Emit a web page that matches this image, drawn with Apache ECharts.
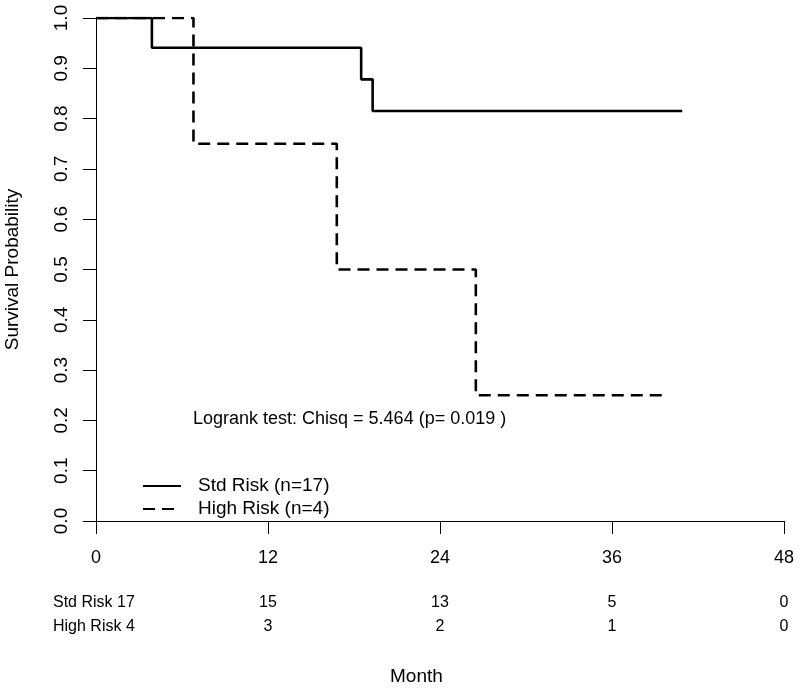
<!DOCTYPE html>
<html>
<head>
<meta charset="utf-8">
<script src="https://cdn.jsdelivr.net/npm/echarts@6/dist/echarts.min.js"></script>
<style>
html,body{margin:0;padding:0;background:#fff;}
#chart{width:800px;height:688px;}
</style>
</head>
<body>
<div id="chart"></div>
<script>
// ---- data ----
var stdTimes = [0, 3.9, 18.5, 19.3];
var stdSurv  = [1.0, 0.941, 0.878, 0.815];
var stdEnd   = 40.9;
var highTimes = [0, 6.8, 16.8, 26.5];
var highSurv  = [1.0, 0.75, 0.5, 0.25];
var highEnd   = 39.6;
var xTicks = [0, 12, 24, 36, 48];
var stdAtRisk  = [17, 15, 13, 5, 0];
var highAtRisk = [4, 3, 2, 1, 0];
var seriesNames = ['Std Risk (n=17)', 'High Risk (n=4)'];
var riskRowNames = ['Std Risk 17', 'High Risk 4'];
var testText = 'Logrank test: Chisq = 5.464 (p= 0.019 )';
var xTitle = 'Month';
var yTitle = 'Survival Probability';

function stepPoints(times, surv, end) {
  var pts = [];
  for (var i = 0; i < times.length; i++) {
    pts.push([times[i], surv[i]]);
    var next = (i + 1 < times.length) ? times[i + 1] : end;
    pts.push([next, surv[i]]);
  }
  return pts;
}

var FONT = '"Liberation Sans", Arial, Helvetica, sans-serif';
var chart = echarts.init(document.getElementById('chart'), null, {renderer: 'canvas'});

function riskAxis(arr, offset) {
  return {
    type: 'value', position: 'bottom', offset: offset,
    min: 0, max: 48, interval: 12,
    axisLine: {show: false}, axisTick: {show: false}, splitLine: {show: false},
    axisLabel: {
      margin: 8, fontSize: 16, color: '#000', fontFamily: FONT,
      formatter: function (v) {
        var i = xTicks.indexOf(v);
        return (i > 0) ? String(arr[i]) : '';
      }
    }
  };
}

var option = {
  backgroundColor: '#fff',
  animation: false,
  grid: {left: 96, right: 16, top: 18, bottom: 167, containLabel: false, outerBoundsMode: 'none'},
  legend: {
    orient: 'vertical', left: 142, top: 476, padding: 0,
    itemWidth: 38, itemHeight: 14, itemGap: 3,
    itemStyle: {opacity: 0, borderWidth: 0},
    textStyle: {fontSize: 19, color: '#000', fontFamily: FONT, padding: [0, 0, 0, 12], lineHeight: 20},
    data: seriesNames
  },
  xAxis: [{
    type: 'value', min: 0, max: 48, interval: 12,
    axisLine: {show: true, onZero: false, lineStyle: {color: '#000', width: 1}},
    axisTick: {show: true, length: 13, lineStyle: {color: '#000', width: 1}},
    splitLine: {show: false},
    axisLabel: {margin: 28, fontSize: 18, color: '#000', fontFamily: FONT}
  },
    riskAxis(stdAtRisk, 66),
    riskAxis(highAtRisk, 90)
  ],
  yAxis: {
    type: 'value', min: 0, max: 1, interval: 0.1,
    name: yTitle, nameLocation: 'middle', nameGap: 74, nameRotate: 90,
    nameTextStyle: {fontSize: 19, color: '#000', fontFamily: FONT},
    axisLine: {show: true, lineStyle: {color: '#000', width: 1}},
    axisTick: {show: true, length: 13, lineStyle: {color: '#000', width: 1}},
    splitLine: {show: false},
    axisLabel: {margin: 25, rotate: 90, fontSize: 19, color: '#000', fontFamily: FONT,
      formatter: function (v) { return v.toFixed(1); }}
  },
  graphic: [
    {type: 'text', left: 193, top: 410, style: {text: testText, fill: '#000', font: '18px ' + FONT}},
    {type: 'text', left: 53, top: 595, style: {text: riskRowNames[0], fill: '#000', font: '16px ' + FONT}},
    {type: 'text', left: 53, top: 619, style: {text: riskRowNames[1], fill: '#000', font: '16px ' + FONT}},
    {type: 'text', left: 390, top: 667, style: {text: xTitle, fill: '#000', font: '19px ' + FONT}}
  ],
  series: [{
    name: seriesNames[0], type: 'line', xAxisIndex: 0,
    data: stepPoints(stdTimes, stdSurv, stdEnd),
    showSymbol: false, symbol: 'none',
    lineStyle: {color: '#000', width: 2.6, type: 'solid'},
    itemStyle: {color: '#000'}
  }, {
    name: seriesNames[1], type: 'line', xAxisIndex: 0,
    data: stepPoints(highTimes, highSurv, highEnd),
    showSymbol: false, symbol: 'none',
    lineStyle: {color: '#000', width: 2.6, type: [12, 7]},
    itemStyle: {color: '#000'}
  }]
};
chart.setOption(option);
</script>
</body>
</html>
